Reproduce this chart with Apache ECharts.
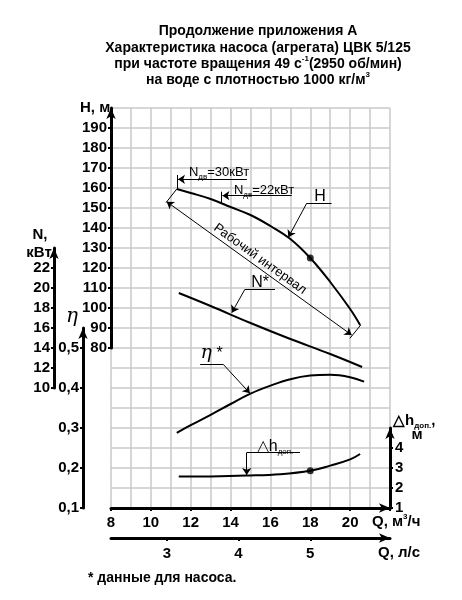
<!DOCTYPE html>
<html lang="ru">
<head>
<meta charset="UTF-8">
<title>ЦВК 5/125</title>
<style>
  html, body { margin: 0; padding: 0; background: #fff; }
  #chart { width: 462px; height: 600px; }
</style>
<script src="https://cdn.jsdelivr.net/npm/echarts@6/dist/echarts.min.js"></script>
</head>
<body>
<div id="chart"></div>
<script>
// Напор H, м
const qHead = [11.3, 12, 13, 14, 15, 16, 17, 18, 19, 20, 20.5];
const headVals = [159.5, 157.5, 154.5, 150.5, 146.5, 141, 134.5, 125, 113, 99.5, 91.5];
// Мощность N*, кВт
const qPower = [11.4, 13, 15, 17, 19, 20.6];
const powerVals = [19.5, 18.2, 16.5, 14.9, 13.4, 12.1];
// КПД η*
const qEff = [11.3, 12, 13, 14, 15, 16, 17, 18, 19, 20, 20.7];
const effVals = [0.288, 0.307, 0.333, 0.36, 0.386, 0.406, 0.422, 0.431, 0.433, 0.427, 0.416];
// Допускаемый кавитационный запас, м
const qNpsh = [11.4, 13, 14.8, 16.5, 18, 19, 20, 20.5];
const npshVals = [2.57, 2.58, 2.62, 2.69, 2.86, 3.12, 3.43, 3.7];
// точки на кривых при Q = 18
const dotQ = [18];
const dotHead = [125];
const dotNpsh = [2.86];

// подписи осей
const qTicks = [8, 10, 12, 14, 16, 18, 20];
const qlsTicks = [3, 4, 5];
const hTicks = [80, 90, 100, 110, 120, 130, 140, 150, 160, 170, 180, 190];
const nTicks = [10, 12, 14, 16, 18, 20, 22];
const effTicks = [0.1, 0.2, 0.3, 0.4, 0.5];
const npshTicks = [1, 2, 3, 4];

const FONT = '"Liberation Sans", Arial, sans-serif';
const GRID_COLOR = '#c8c8c8';

const zip = (xs, ys) => xs.map((x, i) => [x, ys[i]]);

let chart = echarts.init(document.getElementById('chart'), null, { renderer: 'canvas' });

const axisLineStyle = {
    show: true,
    onZero: false,
    symbol: ['none', 'arrow'],
    symbolSize: [7, 11],
    lineStyle: { color: '#000', width: 3 }
};
const tickStyle = { show: true, length: 3, lineStyle: { color: '#000', width: 2 } };
const labelStyle = { color: '#000', fontSize: 15, fontWeight: 'bold', fontFamily: FONT };
const hidden = (grid, extra) => Object.assign({ gridIndex: grid, type: 'value', show: false, min: 0, max: 1 }, extra);

const curve = (name, xs, ys, yAxisIndex, extra) => Object.assign({
    name: name,
    type: 'line',
    xAxisIndex: 1,
    yAxisIndex: yAxisIndex,
    data: zip(xs, ys),
    smooth: 0.4,
    symbol: 'none',
    silent: true,
    lineStyle: { color: '#000', width: 2 }
}, extra);

// выноски и стрелки (в координатах Q, м³/ч – H, м)
const seg = (a, b, arrowStart, arrowEnd) => [
    { coord: a, symbol: arrowStart ? 'arrow' : 'none' },
    { coord: b, symbol: arrowEnd ? 'arrow' : 'none' }
];
const leaders = [
    seg([10.795, 153.15], [20.077, 86.5], true, true), // рабочий интервал
    seg([10.76, 152.65], [11.30, 159.5]),
    seg([19.99, 84.85], [20.53, 91.5]),
    seg([11.30, 166.5], [11.30, 159.5]),                // Nдв=30
    seg([14.82, 164.35], [11.36, 164.35], false, true),
    seg([13.555, 158.15], [13.555, 152.35]),            // Nдв=22
    seg([17.07, 156.15], [13.59, 156.15], false, true),
    seg([17.82, 152.35], [19.07, 152.35]),              // H
    seg([17.82, 152.35], [16.90, 135.35], false, true),
    seg([14.72, 109.35], [16.23, 109.35]),              // N*
    seg([14.72, 109.35], [14.06, 97.65], false, true),
    seg([12.47, 71.85], [13.63, 71.85]),                // η*
    seg([13.63, 71.85], [14.97, 57.35], false, true),
    seg([14.81, 27.65], [17.48, 27.65]),                // Δh
    seg([14.81, 27.65], [14.81, 16.5], false, true)
];

let option = {
    animation: false,
    backgroundColor: '#fff',
    grid: [
        { left: 111, top: 108, width: 279, height: 400 }, // поле графика
        { left: 111, top: 108, width: 279, height: 240 }, // ось H
        { left: 54, top: 248, width: 20, height: 140 },   // ось N
        { left: 83, top: 328, width: 20, height: 180 },   // ось η
        { left: 300, top: 428, width: 90, height: 80 },   // ось Δh
        { left: 111, top: 400, width: 279, height: 138 }  // ось Q, л/с
    ],
    xAxis: [
        { // сетка
            gridIndex: 0, type: 'value', min: 8, max: 22, interval: 1, position: 'top',
            axisLine: { show: false }, axisTick: { show: false }, axisLabel: { show: false },
            splitLine: { show: true, lineStyle: { color: GRID_COLOR, width: 1.5 } }
        },
        { // Q, м³/ч
            gridIndex: 0, type: 'value', min: 8, max: 22, interval: 2, position: 'bottom',
            axisLine: axisLineStyle, axisTick: tickStyle,
            axisLabel: Object.assign({ margin: 7, formatter: v => qTicks.includes(v) ? String(v) : '' }, labelStyle),
            splitLine: { show: false }
        },
        hidden(1), hidden(2), hidden(3), hidden(4),
        { // Q, л/с
            gridIndex: 5, type: 'value', min: 8 / 3.6, max: 22 / 3.6, position: 'bottom',
            axisLine: axisLineStyle,
            axisTick: Object.assign({ customValues: qlsTicks }, tickStyle),
            axisLabel: Object.assign({ margin: 8, customValues: qlsTicks, formatter: v => String(v) }, labelStyle),
            splitLine: { show: false }
        }
    ],
    yAxis: [
        { // сетка и шкала H для кривых
            gridIndex: 0, type: 'value', min: 0, max: 200, interval: 10,
            axisLine: { show: false }, axisTick: { show: false }, axisLabel: { show: false },
            splitLine: { show: true, lineStyle: { color: GRID_COLOR, width: 1.5 } }
        },
        hidden(0, { min: -2, max: 38 }),   // N
        hidden(0, { min: 0.1, max: 1.1 }), // η
        hidden(0, { min: 1, max: 21 }),    // Δh
        { // H, м
            gridIndex: 1, type: 'value', min: 80, max: 200, position: 'left',
            axisLine: axisLineStyle,
            axisTick: Object.assign({ customValues: hTicks }, tickStyle),
            axisLabel: Object.assign({ margin: 4, customValues: hTicks }, labelStyle),
            splitLine: { show: false }
        },
        { // N, кВт
            gridIndex: 2, type: 'value', min: 10, max: 24, position: 'left',
            axisLine: axisLineStyle,
            axisTick: Object.assign({ customValues: nTicks }, tickStyle),
            axisLabel: Object.assign({ margin: 4, customValues: nTicks }, labelStyle),
            splitLine: { show: false }
        },
        { // η
            gridIndex: 3, type: 'value', min: 0.1, max: 0.55, position: 'left',
            axisLine: axisLineStyle,
            axisTick: Object.assign({ customValues: effTicks }, tickStyle),
            axisLabel: Object.assign({ margin: 4, customValues: effTicks, formatter: v => v.toFixed(1).replace('.', ',') }, labelStyle),
            splitLine: { show: false }
        },
        { // Δh, м
            gridIndex: 4, type: 'value', min: 1, max: 5, position: 'right',
            axisLine: axisLineStyle,
            axisTick: Object.assign({ customValues: npshTicks }, tickStyle),
            axisLabel: Object.assign({ margin: 5, customValues: npshTicks }, labelStyle),
            splitLine: { show: false }
        },
        hidden(5)
    ],
    series: [
        curve('H', qHead, headVals, 0, {
            markLine: {
                silent: true,
                symbolSize: 7,
                label: { show: false },
                lineStyle: { color: '#000', width: 1, type: 'solid' },
                emphasis: { disabled: true },
                data: leaders
            }
        }),
        curve('N*', qPower, powerVals, 1),
        curve('η*', qEff, effVals, 2),
        curve('Δh доп.', qNpsh, npshVals, 3),
        {
            type: 'scatter', xAxisIndex: 1, yAxisIndex: 0, silent: true,
            symbolSize: 7, itemStyle: { color: '#000' }, data: zip(dotQ, dotHead)
        },
        {
            type: 'scatter', xAxisIndex: 1, yAxisIndex: 3, silent: true,
            symbolSize: 7, itemStyle: { color: '#000' }, data: zip(dotQ, dotNpsh)
        }
    ]
};

chart.setOption(option);

// подписи
const sub = { fontSize: 8, fontFamily: FONT, verticalAlign: 'bottom' };
const sup = { fontSize: 8, fontFamily: FONT, fontWeight: 'bold', verticalAlign: 'top' };
const txt = (x, y, text, style, extra) => Object.assign({
    type: 'text', x: x, y: y, silent: true,
    style: Object.assign({
        text: text, fill: '#000', font: 'bold 15px ' + FONT,
        align: 'left', verticalAlign: 'middle'
    }, style)
}, extra);
const at = (q, h) => chart.convertToPixel({ xAxisIndex: 1, yAxisIndex: 0 }, [q, h]);
const note = (q, h, text, style, extra) => {
    const p = at(q, h);
    return txt(p[0], p[1], text, style, extra);
};
const title = 'bold 14px ' + FONT;

const graphics = [
    txt(258, 31, 'Продолжение приложения А', { align: 'center', font: title }),
    txt(258, 48, 'Характеристика насоса (агрегата) ЦВК 5/125', { align: 'center', font: title }),
    txt(258, 64, 'при частоте вращения 49 с{sup|-1}(2950 об/мин)', { align: 'center', font: title, lineHeight: 18, rich: { sup: sup } }),
    txt(258, 80, 'на воде с плотностью 1000 кг/м{sup|3}', { align: 'center', font: title, lineHeight: 18, rich: { sup: sup } }),

    txt(80, 108, 'H, м'),
    txt(40, 235, 'N,', { align: 'center' }),
    txt(39, 253, 'кВт', { align: 'center' }),
    txt(72, 317, 'η', { align: 'center', font: 'italic 20px "DejaVu Serif", serif' }),
    txt(393, 421, '△h{sub|доп.},', { lineHeight: 18, rich: { sub: Object.assign({}, sub, { fontWeight: 'bold' }) } }),
    txt(417, 435, 'м', { align: 'center' }),
    txt(372, 522, 'Q, м{sup|3}/ч', { lineHeight: 18, rich: { sup: sup } }),
    txt(378, 553, 'Q, л/с'),
    txt(88, 578, '* данные для насоса.', { font: 'bold 14px ' + FONT }),

    note(15.48, 124.5, 'Рабочий интервал', { align: 'center', font: '13px ' + FONT }, { rotation: -35.8 * Math.PI / 180 }),
    note(11.91, 167.65, 'N{sub|дв}=30кВт', { font: '13px ' + FONT, lineHeight: 17, rich: { sub: sub } }),
    note(14.17, 159, 'N{sub|дв}=22кВт', { font: '13px ' + FONT, lineHeight: 17, rich: { sub: sub } }),
    note(18.49, 155.65, 'H', { align: 'center', font: '16px ' + FONT }),
    note(15.48, 112.5, 'N*', { align: 'center', font: '16px ' + FONT }),
    note(13.05, 77.35, '{eta|η} *', { align: 'center', font: '16px ' + FONT, rich: { eta: { font: 'italic 19px "DejaVu Serif", serif' } } }),
    note(16.23, 30.75, '△h{sub|доп.}', { align: 'center', font: '16px ' + FONT, lineHeight: 19, rich: { sub: sub } })
];

chart.setOption({ graphic: graphics });
</script>
</body>
</html>
